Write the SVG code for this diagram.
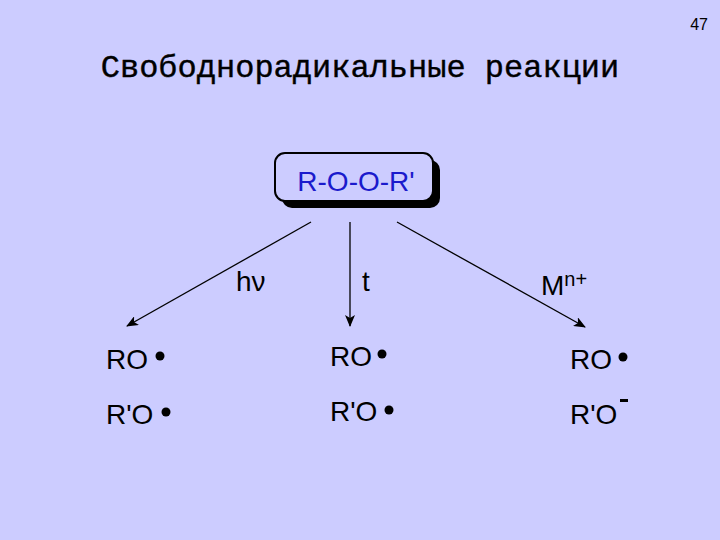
<svg xmlns="http://www.w3.org/2000/svg" width="720" height="540" viewBox="0 0 720 540">
<defs>
<marker id="ah" viewBox="0 0 12 10" refX="11" refY="5" markerWidth="12" markerHeight="10" markerUnits="userSpaceOnUse" orient="auto"><path d="M0,0 L12,5 L0,10 L3,5 Z" fill="#000"/></marker>
<style>
.t{font-family:"Liberation Sans",Arial,sans-serif;font-size:28px;fill:#000}
.ln{stroke:#000;stroke-width:1.3;fill:none;marker-end:url(#ah)}
</style>
</defs>
<rect width="720" height="540" fill="#ccccff"/>
<text x="708" y="30" text-anchor="end" font-family="Liberation Sans,Arial,sans-serif" font-size="16">47</text>
<text x="360" y="77" text-anchor="middle" font-family="Liberation Mono,Courier New,monospace" font-size="32" stroke="#000" stroke-width="0.4">Свободнорадикальные реакции</text>
<g id="root">
<rect x="282" y="160" width="158" height="48" rx="10" fill="#000"/>
<rect x="275" y="153" width="158" height="48" rx="10" fill="#ccccff" stroke="#000" stroke-width="2"/>
<text x="356" y="191" text-anchor="middle" font-family="Liberation Sans,Arial,sans-serif" font-size="28" fill="#1a1acc">R-O-O-R'</text>
</g>
<g id="connectors">
<line class="ln" x1="311" y1="222" x2="127" y2="326"/>
<line class="ln" x1="350" y1="222" x2="350" y2="326"/>
<line class="ln" x1="397" y1="222" x2="585" y2="327"/>
</g>
<g id="labels">
<text class="t" x="236" y="291">hν</text>
<text class="t" x="362" y="291">t</text>
<text class="t" x="541" y="295">M<tspan font-size="20" dy="-9">n+</tspan></text>
</g>
<g id="left">
<text class="t" x="106" y="369">RO</text><circle cx="160" cy="356" r="4.5"/>
<text class="t" x="106" y="424">R'O</text><circle cx="166" cy="412" r="4.5"/>
</g>
<g id="mid">
<text class="t" x="330" y="366">RO</text><circle cx="382" cy="354" r="4.5"/>
<text class="t" x="330" y="421">R'O</text><circle cx="389" cy="410" r="4.5"/>
</g>
<g id="right">
<text class="t" x="570" y="369">RO</text><circle cx="623" cy="357" r="4.5"/>
<text class="t" x="570" y="424">R'O</text><rect x="620" y="399" width="8" height="3"/>
</g>
</svg>
